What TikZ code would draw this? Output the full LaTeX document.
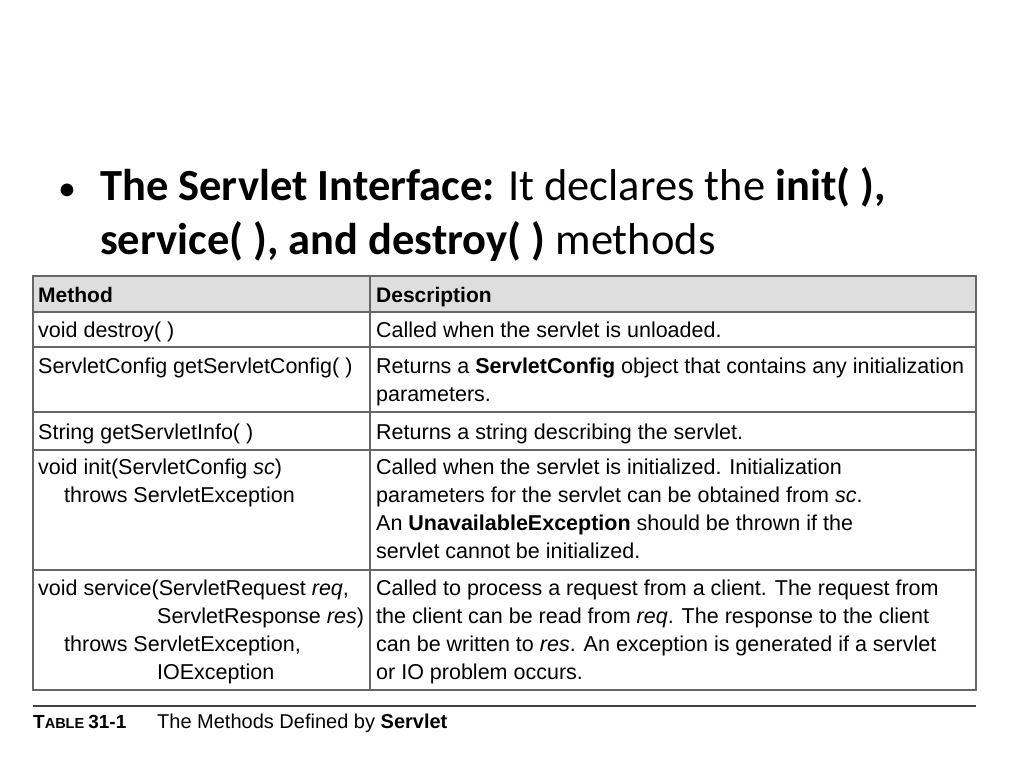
\documentclass[tikz,border=0pt]{standalone}
\usepackage{fontspec}
\setmainfont{Carlito}
\newfontfamily\tabfont{Liberation Sans}
\begin{document}
\begin{tikzpicture}[x=1pt,y=-1pt,
    every node/.style={inner sep=0pt,anchor=base west},
    cell/.style={font=\tabfont\fontsize{21.5}{24}\selectfont},
    hdr/.style={font=\tabfont\bfseries\fontsize{21}{24}\selectfont},
    rule/.style={draw=black!60,line width=1.2pt}]
    \useasboundingbox (0,0) rectangle (1024,768);
    % bullet text
    \node (bul) at (58,200) {\fontsize{36}{40}\selectfont\textbullet};
    \node (l1) at (100,200) {\fontsize{44.5}{48}\selectfont\textbf{The Servlet Interface:} It declares the \textbf{init( ),}};
    \node (l2) at (100,254) {\fontsize{44.5}{48}\selectfont\textbf{service( ), and destroy( )} methods};
    % table frame
    \fill[black!13] (33,276) rectangle (976,312);
    \draw[rule] (33,276) rectangle (976,690);
    \draw[rule] (370,276) -- (370,690);
    \foreach \y in {312,347,412,450,570}
        \draw[rule] (33,\y) -- (976,\y);
    % header
    \node[hdr] (hm) at (38,302) {Method};
    \node[hdr] (hd) at (376,302) {Description};
    % rows
    \node[cell] (m1) at (38,337) {void destroy( )};
    \node[cell] (d1) at (376,337) {Called when the servlet is unloaded.};
    \node[cell] (m2) at (38,373) {ServletConfig getServletConfig( )};
    \node[cell] (d2a) at (376,373) {Returns a \textbf{ServletConfig} object that contains any initialization};
    \node[cell] (d2b) at (376,401) {parameters.};
    \node[cell] (m3) at (38,439) {String getServletInfo( )};
    \node[cell] (d3) at (376,439) {Returns a string describing the servlet.};
    \node[cell] (m4a) at (38,474) {void init(ServletConfig \textit{sc})};
    \node[cell] (m4b) at (64,502) {throws ServletException};
    \node[cell] (d4a) at (376,474) {Called when the servlet is initialized. Initialization};
    \node[cell] (d4b) at (376,502) {parameters for the servlet can be obtained from \textit{sc}.};
    \node[cell] (d4c) at (376,530) {An \textbf{UnavailableException} should be thrown if the};
    \node[cell] (d4d) at (376,558) {servlet cannot be initialized.};
    \node[cell] (m5a) at (38,595) {void service(ServletRequest \textit{req},};
    \node[cell] (m5b) at (157,623) {ServletResponse \textit{res})};
    \node[cell] (m5c) at (64,651) {throws ServletException,};
    \node[cell] (m5d) at (157,679) {IOException};
    \node[cell] (d5a) at (376,595) {Called to process a request from a client. The request from};
    \node[cell] (d5b) at (376,623) {the client can be read from \textit{req}. The response to the client};
    \node[cell] (d5c) at (376,651) {can be written to \textit{res}. An exception is generated if a servlet};
    \node[cell] (d5d) at (376,679) {or IO problem occurs.};
    % caption
    \draw[black!75,line width=2.5pt] (33,706) -- (976,706);
    \node (cap1) at (33,728) {\tabfont\bfseries\fontsize{19}{22}\selectfont T\fontsize{14.5}{18}\selectfont ABLE \fontsize{19}{22}\selectfont 31-1};
    \node (cap2) at (157,728) {\tabfont\fontsize{20}{22}\selectfont The Methods Defined by \textbf{Servlet}};
\end{tikzpicture}
\end{document}
